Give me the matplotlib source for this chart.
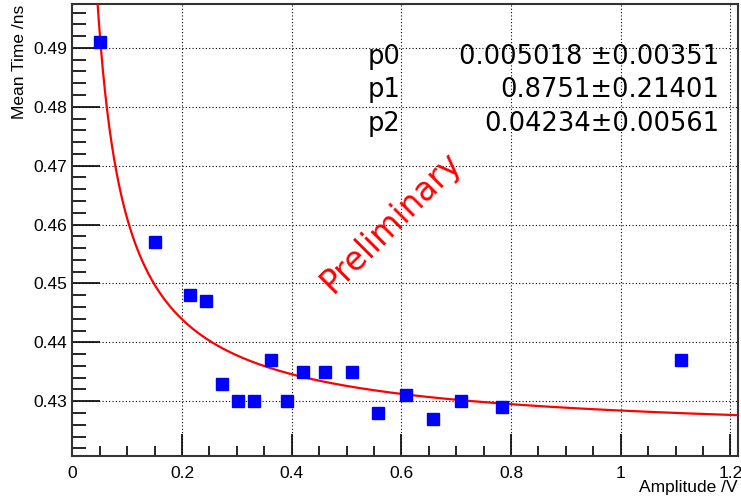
# -*- coding: utf-8 -*-
import numpy as np
import matplotlib
matplotlib.use('Agg')
import matplotlib.pyplot as plt
from matplotlib.ticker import MultipleLocator

# data
amplitude = [0.05, 0.15, 0.215, 0.243, 0.273, 0.302, 0.331, 0.362, 0.392, 0.421,
             0.461, 0.510, 0.558, 0.609, 0.658, 0.709, 0.784, 1.110]
mean_time = [0.491, 0.457, 0.448, 0.447, 0.433, 0.430, 0.430, 0.437, 0.430, 0.435,
             0.435, 0.435, 0.428, 0.431, 0.427, 0.430, 0.429, 0.437]

# fit parameters shown in the stats box
par_names = ['p0', 'p1', 'p2']
par_values = ['0.005018 ', '0.8751', '0.04234']
par_errors = ['0.00351', '0.21401', '0.00561']
p0, p1, p2 = 0.005018, 0.8751, 0.04234

plt.rcParams['font.family'] = ['Liberation Sans', 'DejaVu Sans']

fig = plt.figure(figsize=(7.41, 4.98), dpi=100)
ax = fig.add_axes([0.0976, 0.0843, 0.8984, 0.9071])

# fit curve
xf = np.linspace(0.03, 1.22, 600)
yf = p0 * xf ** (-p1) + 10 * p2
ax.plot(xf, yf, color='red', lw=1.6, zorder=3)

# points
ax.plot(amplitude, mean_time, 's', color='blue', markersize=8, zorder=4)

ax.set_xlim(0, 1.214)
ax.set_ylim(0.4207, 0.4974)

ax.xaxis.set_major_locator(MultipleLocator(0.2))
ax.xaxis.set_minor_locator(MultipleLocator(0.05))
ax.yaxis.set_major_locator(MultipleLocator(0.01))
ax.yaxis.set_minor_locator(MultipleLocator(0.002))
ax.set_xticks([0, 0.2, 0.4, 0.6, 0.8, 1.0, 1.2])
ax.set_xticklabels(['0', '0.2', '0.4', '0.6', '0.8', '1', '1.2'])
ax.tick_params(which='both', direction='in', labelsize=12.5, colors='black')
ax.tick_params(axis='y', which='major', length=20, width=1.2)
ax.tick_params(axis='y', which='minor', length=10, width=1.2)
ax.tick_params(axis='x', which='major', length=16, width=1.2, pad=7)
ax.tick_params(axis='x', which='minor', length=7, width=1.2)
ax.tick_params(axis='y', pad=4)

ax.grid(True, which='major', color='black', linestyle=(0, (1, 2)), lw=0.8)
for s in ax.spines.values():
    s.set_linewidth(1.5)
    s.set_color('#333333')

ax.set_ylabel('Mean Time /ns', fontsize=12.5)
ax.yaxis.set_label_coords(-0.068, 1.0)
ax.yaxis.label.set_horizontalalignment('right')
ax.set_xlabel('Amplitude /V', fontsize=12.5)
ax.xaxis.set_label_coords(1.0, -0.052)
ax.xaxis.label.set_horizontalalignment('right')

# stats text
rows_y = [0.4884, 0.4828, 0.4770]
for name, val, err, yy in zip(par_names, par_values, par_errors, rows_y):
    ax.text(0.538, yy, name, fontsize=18.5, family='DejaVu Sans', va='center', ha='left')
    ax.text(1.180, yy, val + '\u00b1' + err, fontsize=18.5, family='DejaVu Sans',
            va='center', ha='right')

ax.text(0.581, 0.4604, 'Preliminary', color='red', fontsize=23.5, rotation=45,
        ha='center', va='center', family='DejaVu Sans')

fig.savefig('out.png', dpi=100)
